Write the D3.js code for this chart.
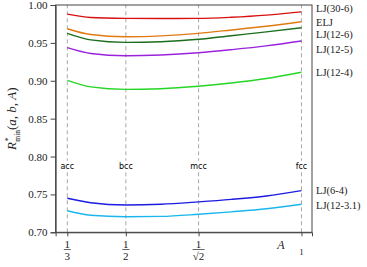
<!DOCTYPE html>
<html>
<head>
<meta charset="utf-8">
<script src="https://cdn.jsdelivr.net/npm/d3@7"></script>
<style>
  body { margin: 0; background: #fff; }
  text { font-family: "Liberation Serif", "DejaVu Serif", serif; }
</style>
</head>
<body>
<div id="chart"></div>
<script>
// A values where the curves are sampled
const aValues = [1 / 3, 0.4, 0.5, 0.6, Math.SQRT1_2, 0.8, 0.9, 1];

const lj30_6  = [0.988, 0.9836, 0.9824, 0.9821, 0.9823, 0.9838, 0.9866, 0.991];
const elj     = [0.9687, 0.961, 0.958, 0.9592, 0.9626, 0.967, 0.972, 0.978];
const lj12_6  = [0.9626, 0.954, 0.9507, 0.9515, 0.9547, 0.9595, 0.9645, 0.970];
const lj12_5  = [0.9437, 0.936, 0.933, 0.934, 0.937, 0.941, 0.946, 0.9525];
const lj12_4  = [0.9006, 0.892, 0.8887, 0.8895, 0.8927, 0.897, 0.903, 0.9112];
const lj6_4   = [0.7449, 0.739, 0.736, 0.737, 0.7402, 0.7435, 0.748, 0.755];
const lj12_31 = [0.7285, 0.7225, 0.7206, 0.721, 0.7238, 0.727, 0.731, 0.737];

const seriesNames = ["LJ(30-6)", "ELJ", "LJ(12-6)", "LJ(12-5)", "LJ(12-4)", "LJ(6-4)", "LJ(12-3.1)"];
const seriesValues = [lj30_6, elj, lj12_6, lj12_5, lj12_4, lj6_4, lj12_31];
const seriesColors = ["#d81010", "#e07a12", "#1b6e1b", "#9a22dc", "#26d626", "#1c1ce0", "#1ab6ee"];

const latticeNames = ["acc", "bcc", "mcc", "fcc"];
const latticeA = [1 / 3, 0.5, Math.SQRT1_2, 1];
const yTicks = [0.70, 0.75, 0.80, 0.85, 0.90, 0.95, 1.00];

const width = 367, height = 267;
const margin = {left: 55.6, right: 55, top: 5, bottom: 34.7};

const svg = d3.select("#chart").append("svg")
    .attr("width", width)
    .attr("height", height);

const x = d3.scaleLinear([0.3, 1.03], [margin.left, width - margin.right]);
const y = d3.scaleLinear([0.70, 1.00], [height - margin.bottom, margin.top]);

const axisColor = "#444";

// dashed lattice guides
svg.append("g")
    .attr("stroke", "#a8a8a8")
    .attr("stroke-dasharray", "4,3")
    .attr("stroke-width", 1)
  .selectAll("line")
  .data(latticeA)
  .join("line")
    .attr("x1", d => x(d)).attr("x2", d => x(d))
    .attr("y1", y(0.70)).attr("y2", y(1.00));

// lattice labels with white background
const lab = svg.append("g")
  .selectAll("g")
  .data(latticeNames)
  .join("g")
    .attr("transform", (d, i) => `translate(${x(latticeA[i])},${y(0.7865)})`);
lab.append("rect")
    .attr("x", -8).attr("y", -6).attr("width", 16).attr("height", 11)
    .attr("fill", "#fff");
lab.append("text")
    .attr("text-anchor", "middle")
    .attr("dy", "0.32em")
    .style("font-family", "'DejaVu Sans', sans-serif")
    .style("font-size", "8px")
    .text(d => d);

// curves
const line = d3.line()
    .x((d, i) => x(aValues[i]))
    .y(d => y(d))
    .curve(d3.curveMonotoneX);

svg.append("g")
    .attr("fill", "none")
    .attr("stroke-width", 1.4)
  .selectAll("path")
  .data(seriesValues)
  .join("path")
    .attr("stroke", (d, i) => seriesColors[i])
    .attr("d", line);

// frame
svg.append("rect")
    .attr("x", x.range()[0]).attr("y", margin.top)
    .attr("width", x.range()[1] - x.range()[0])
    .attr("height", y(0.70) - margin.top)
    .attr("fill", "none")
    .attr("stroke", axisColor)
    .attr("stroke-width", 1);

// y axis
const yAxis = svg.append("g")
    .attr("transform", `translate(${x.range()[0]},0)`)
    .call(d3.axisLeft(y).tickValues(yTicks).tickFormat(d3.format(".2f")).tickSize(5).tickPadding(3));
yAxis.select(".domain").attr("stroke", axisColor);
yAxis.selectAll(".tick line").attr("stroke", axisColor);
yAxis.selectAll("text")
    .style("font-family", "'Liberation Serif', serif")
    .style("font-size", "11px")
    .attr("fill", "#222");

// x axis (fraction labels added by hand)
const xAxis = svg.append("g")
    .attr("transform", `translate(0,${y(0.70)})`)
    .call(d3.axisBottom(x).tickValues(latticeA).tickFormat("").tickSize(4));
xAxis.select(".domain").attr("stroke", axisColor);
xAxis.selectAll(".tick line").attr("stroke", axisColor);

const fracs = [["1", "3"], ["1", "2"], ["1", "√2"]];
const fg = svg.append("g")
    .style("font-size", "11px")
    .attr("fill", "#222")
  .selectAll("g")
  .data(fracs)
  .join("g")
    .attr("transform", (d, i) => `translate(${x(latticeA[i])},0)`);
fg.append("text")
    .attr("text-anchor", "middle")
    .attr("y", 247.5)
    .text(d => d[0]);
fg.append("line")
    .attr("x1", d => d[1].length > 1 ? -6 : -3.5)
    .attr("x2", d => d[1].length > 1 ? 6 : 3.5)
    .attr("y1", 249.5).attr("y2", 249.5)
    .attr("stroke", "#222").attr("stroke-width", 0.7);
fg.append("text")
    .attr("text-anchor", "middle")
    .attr("y", 259.5)
    .text(d => d[1]);

svg.append("text")
    .attr("x", x(1)).attr("y", 254.5)
    .attr("text-anchor", "middle")
    .style("font-size", "9px")
    .attr("fill", "#222")
    .text("1");

svg.append("text")
    .attr("x", 281).attr("y", 249)
    .attr("text-anchor", "middle")
    .style("font-size", "12px")
    .style("font-style", "italic")
    .attr("fill", "#222")
    .text("A");

// y axis title
const yt = svg.append("text")
    .attr("transform", `translate(16,${(y(0.70) + y(1.0)) / 2}) rotate(-90)`)
    .attr("text-anchor", "middle")
    .style("font-size", "13px")
    .attr("fill", "#222");
yt.append("tspan").style("font-style", "italic").text("R");
yt.append("tspan").attr("dy", -5.5).attr("dx", 0.5).style("font-size", "8.5px").text("*");
yt.append("tspan").attr("dy", 9).attr("dx", -4.5).style("font-size", "7.5px").text("min");
yt.append("tspan").attr("dy", -3.5).text("(");
yt.append("tspan").style("font-style", "italic").text("a");
yt.append("tspan").text(", ");
yt.append("tspan").style("font-style", "italic").text("b");
yt.append("tspan").text(", ");
yt.append("tspan").style("font-style", "italic").text("A");
yt.append("tspan").text(")");

// series labels on the right
const labelY = [8.3, 22.3, 34.7, 49.3, 72.7, 190.7, 205];
svg.append("g")
    .style("font-size", "10.5px")
    .attr("fill", "#222")
  .selectAll("text")
  .data(seriesNames)
  .join("text")
    .attr("x", 316)
    .attr("y", (d, i) => labelY[i])
    .attr("dy", "0.35em")
    .text(d => d);
</script>
</body>
</html>
